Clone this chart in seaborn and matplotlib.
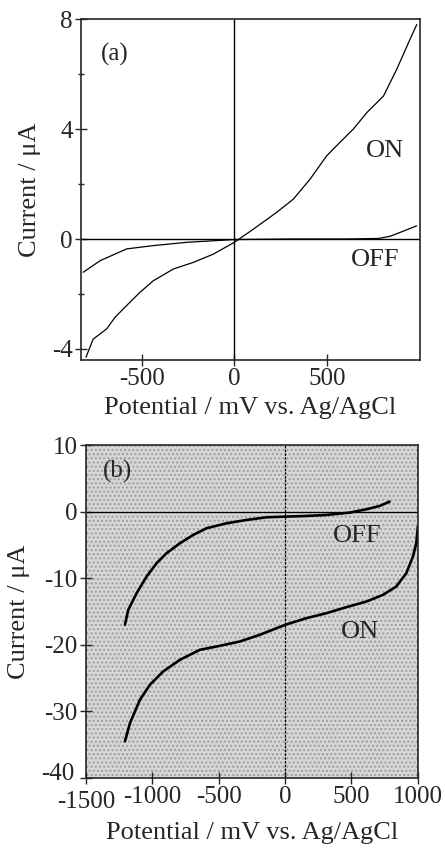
import numpy as np
import pandas as pd
import seaborn as sns
import matplotlib.pyplot as plt
import matplotlib.transforms as mtransforms
from matplotlib.patches import Rectangle

# --- DATA ---
# panel (a)
a_on_mv = [-803, -764, -691, -646, -583, -511, -439, -330, -222, -114, 0, 103, 229, 319, 410, 500, 572, 644, 717, 807, 879, 951, 987]
a_on_ua = [-4.3, -3.64, -3.27, -2.85, -2.42, -1.94, -1.52, -1.09, -0.85, -0.55, -0.12, 0.36, 0.97, 1.45, 2.18, 3.03, 3.52, 4.0, 4.6, 5.2, 6.18, 7.27, 7.8]
a_off_mv = [-818, -727, -583, -439, -258, 0, 300, 600, 780, 843, 897, 987]
a_off_ua = [-1.21, -0.79, -0.36, -0.24, -0.12, -0.02, 0.0, 0.0, 0.02, 0.1, 0.24, 0.48]

# panel (b)
b_off_mv = [-1206, -1181, -1118, -1043, -968, -893, -792, -692, -592, -441, -291, -140, 0, 160, 311, 486, 612, 712, 787]
b_off_ua = [-17, -14.75, -12.25, -9.75, -7.75, -6.25, -4.75, -3.5, -2.5, -1.75, -1.25, -0.85, -0.75, -0.65, -0.5, -0.15, 0.35, 0.85, 1.5]
b_on_mv = [-1206, -1168, -1093, -1018, -918, -792, -642, -491, -341, -191, 0, 160, 311, 461, 612, 737, 837, 913, 963, 988, 1000]
b_on_ua = [-34.5, -31.75, -28.25, -26, -24, -22.25, -20.75, -20.15, -19.5, -18.5, -17, -16, -15.25, -14.35, -13.5, -12.5, -11.25, -9.25, -6.75, -4.75, -2.25]

a_yticks = [-4, 0, 4, 8]
a_yminor = [-2, 2, 6]
a_xticks = [-500, 0, 500]
b_yticks = [-40, -30, -20, -10, 0, 10]
b_xticks = [-1500, -1000, -500, 0, 500, 1000]

XLABEL = "Potential / mV vs. Ag/AgCl"
YLABEL = "Current / \u03bcA"

sns.set_style("ticks")
plt.rcParams['font.family'] = ['Liberation Serif', 'DejaVu Serif']
plt.rcParams['axes.unicode_minus'] = False
plt.rcParams['hatch.linewidth'] = 1.0

fig = plt.figure(figsize=(4.45, 8.48), dpi=100)
ax1 = fig.add_axes([0.182, 0.5755, 0.762, 0.402])
ax2 = fig.add_axes([0.193, 0.0825, 0.746, 0.3927])

# --- (a) ---
sns.lineplot(x=a_on_mv, y=a_on_ua, ax=ax1, color='black', lw=0.9, estimator=None, sort=False)
sns.lineplot(x=a_off_mv, y=a_off_ua, ax=ax1, color='black', lw=0.9, estimator=None, sort=False)
ax1.axhline(0, color='black', lw=1.0)
ax1.axvline(0, color='black', lw=1.0)
ax1.set_xlim(-830, 1005)
ax1.set_ylim(-4.4, 8)
ax1.set_xticks(a_xticks)
ax1.set_yticks(a_yticks)
ax1.set_yticks(a_yminor, minor=True)
ax1.text(-720, 6.7, "(a)", fontsize=18, va='center')
ax1.text(710, 3.2, "ON", fontsize=19, va='center')
ax1.text(630, -0.75, "OFF", fontsize=19, va='center')

# --- (b) --- stippled grey background
ax2.add_patch(Rectangle((0, 0), 1, 1, transform=ax2.transAxes, facecolor='#d6d6d6',
                        hatch='....', edgecolor='#9c9c9c', lw=0, zorder=0))
sns.lineplot(x=b_off_mv, y=b_off_ua, ax=ax2, color='black', lw=1.9, estimator=None, sort=False)
sns.lineplot(x=b_on_mv, y=b_on_ua, ax=ax2, color='black', lw=1.9, estimator=None, sort=False)
ax2.axhline(0, color='black', lw=0.9)
ax2.axvline(0, color='black', lw=0.9, ls=(0, (2, 1)))
ax2.set_xlim(-1500, 1000)
ax2.set_ylim(-40, 10)
ax2.set_xticks(b_xticks)
ax2.set_yticks(b_yticks)
ax2.text(-1370, 6, "(b)", fontsize=18, va='center')
ax2.text(360, -3.6, "OFF", fontsize=19, va='center')
ax2.text(420, -18, "ON", fontsize=19, va='center')

for ax in (ax1, ax2):
    ax.set_ylabel(YLABEL, fontsize=19, labelpad=8)
    ax.tick_params(axis='both', which='major', direction='inout', length=8, width=1.0, labelsize=18, pad=2)
    ax.tick_params(axis='both', which='minor', direction='inout', length=5, width=1.0)
    for s in ax.spines.values():
        s.set_linewidth(1.2)
        s.set_visible(True)
ax1.set_xlabel(XLABEL, fontsize=19, labelpad=5)
ax2.set_xlabel(XLABEL, fontsize=19, labelpad=7)

# the "-40" label sits a little high in the original, clear of "-1500"
fig.canvas.draw()
lab40 = ax2.get_yticklabels()[0]
lab40.set_transform(lab40.get_transform() + mtransforms.ScaledTranslation(-2 / 72, 5 / 72, fig.dpi_scale_trans))
lab1500 = ax2.get_xticklabels()[0]
lab1500.set_transform(lab1500.get_transform() + mtransforms.ScaledTranslation(0, -3 / 72, fig.dpi_scale_trans))

fig.savefig("out.png", dpi=100)
